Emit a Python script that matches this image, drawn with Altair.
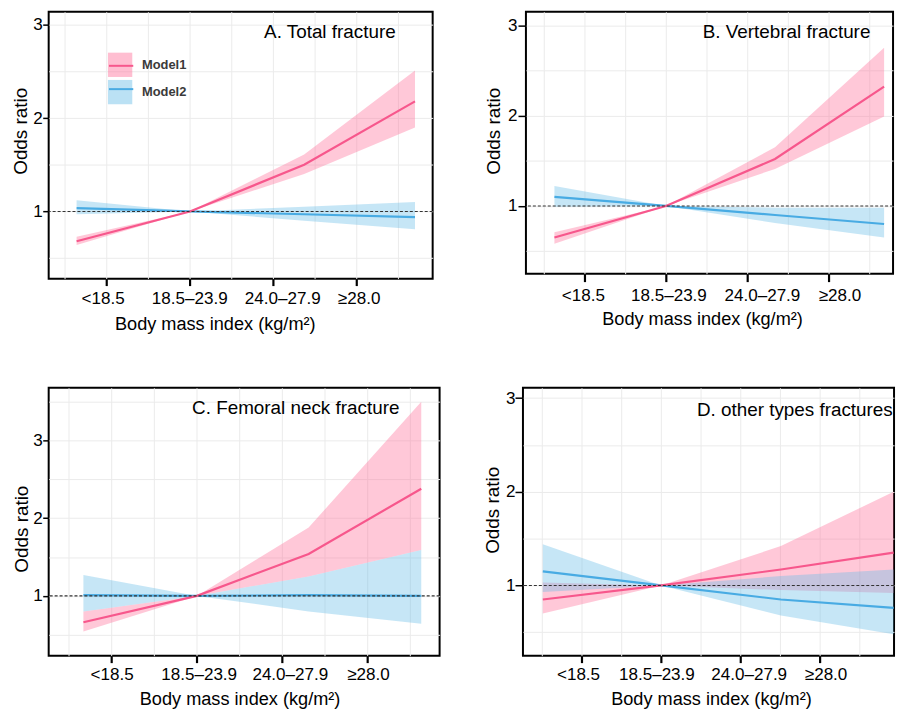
import json
import altair as alt
import pandas as pd

FONT = "Liberation Sans"
MODELS = ["Model1", "Model2"]
X_TICK_LABELS = ["<18.5", "18.5–23.9", "24.0–27.9", "≥28.0"]
X_TITLE = "Body mass index (kg/m²)"
Y_TITLE = "Odds ratio"

PINK_LINE = "#F7578C"
BLUE_LINE = "#48ABE3"
PINK_FILL = "#FF6E99"
BLUE_FILL = "#69BDE7"

# ---- Panel A: Total fracture
a_x = [0.64, 2.0, 3.37, 4.70]
a_m1_est = [0.68, 1.0, 1.50, 2.18]
a_m1_lo = [0.64, 1.0, 1.40, 1.90]
a_m1_hi = [0.73, 1.0, 1.61, 2.51]
a_m2_est = [1.035, 1.0, 0.97, 0.94]
a_m2_lo = [0.97, 1.0, 0.90, 0.81]
a_m2_hi = [1.12, 1.0, 1.05, 1.10]

# ---- Panel B: Vertebral fracture
b_x = [0.63, 2.0, 3.34, 4.68]
b_m1_est = [0.65, 1.0, 1.52, 2.32]
b_m1_lo = [0.58, 1.0, 1.41, 1.99]
b_m1_hi = [0.71, 1.0, 1.65, 2.75]
b_m2_est = [1.10, 1.0, 0.90, 0.80]
b_m2_lo = [0.99, 1.0, 0.81, 0.65]
b_m2_hi = [1.22, 1.0, 0.98, 0.98]

# ---- Panel C: Femoral neck fracture
c_x = [0.67, 2.0, 3.31, 4.63]
c_m1_est = [0.66, 1.0, 1.54, 2.38]
c_m1_lo = [0.54, 1.0, 1.25, 1.59]
c_m1_hi = [0.80, 1.0, 1.88, 3.50]
c_m2_est = [1.01, 1.0, 1.01, 1.0]
c_m2_lo = [0.80, 1.0, 0.80, 0.64]
c_m2_hi = [1.27, 1.0, 1.25, 1.59]

# ---- Panel D: other types fractures
d_x = [0.51, 2.0, 3.51, 4.93]
d_m1_est = [0.85, 1.0, 1.17, 1.35]
d_m1_lo = [0.70, 1.0, 0.95, 0.92]
d_m1_hi = [1.03, 1.0, 1.42, 2.00]
d_m2_est = [1.15, 1.0, 0.85, 0.76]
d_m2_lo = [0.93, 1.0, 0.68, 0.48]
d_m2_hi = [1.44, 1.0, 1.10, 1.17]

X_GRID = [0.5, 1, 1.5, 2, 2.5, 3, 3.5, 4, 4.5]
REF_LINE = [1.0]


def make_df(x, m1e, m1l, m1h, m2e, m2l, m2h):
    rows = []
    for model, e, l, h in [(MODELS[0], m1e, m1l, m1h), (MODELS[1], m2e, m2l, m2h)]:
        for xi, ei, li, hi in zip(x, e, l, h):
            rows.append({"x": xi, "model": model, "est": ei, "lo": li, "hi": hi})
    return pd.DataFrame(rows)


MINOR_OFF = {"condition": {"test": "datum.value % 1 !== 0", "value": 0}, "value": 1}
X_LABEL_EXPR = ("datum.value % 1 === 0 ? " + json.dumps(X_TICK_LABELS, ensure_ascii=False)
                + "[datum.value - 1] : ''")
Y_LABEL_EXPR = "datum.value % 1 === 0 ? '' + datum.value : ''"


def label_shift(vals):
    return {"condition": [{"test": f"datum.value === {i + 1}", "value": v}
                          for i, v in enumerate(vals)], "value": 0}


LEG_COMMON = dict(title=None, orient="none", legendX=59.5, legendY=41, direction="vertical",
                  symbolSize=600, labelFontSize=13, labelFontWeight="bold",
                  labelColor="#3a3a3a", labelOffset=9.5, rowPadding=2.5, padding=0,
                  labelFont=FONT)
FILL_LEGEND = alt.Legend(symbolType="square", symbolStrokeWidth=0, symbolOpacity=0.45,
                         zindex=1, **LEG_COMMON)
STROKE_LEGEND = alt.Legend(symbolType="stroke", symbolStrokeWidth=2, labelExpr="''",
                           zindex=2, **LEG_COMMON)


def panel(df, label, w, h, xdom, ydom, yvals, xa, shifts, ya, text_pos, legend=False):
    xs = alt.Scale(domain=xdom, nice=False, zero=False)
    ys = alt.Scale(domain=ydom, nice=False, zero=False)
    x_axis = alt.Axis(values=X_GRID, labelExpr=X_LABEL_EXPR, title=X_TITLE, grid=True,
                      domain=False, tickColor="black", tickWidth=2.2, tickSize=xa[0],
                      tickOpacity=MINOR_OFF, labelPadding=xa[1], titlePadding=xa[2],
                      titleX=xa[3], labelOffset=label_shift(shifts),
                      labelFlush=False, labelOverlap=False)
    y_axis = alt.Axis(values=yvals, labelExpr=Y_LABEL_EXPR, title=Y_TITLE, grid=True,
                      domain=False, tickColor="black", tickWidth=1.5, tickSize=ya[0],
                      tickOpacity=MINOR_OFF, labelPadding=ya[1], titlePadding=ya[2],
                      titleY=ya[3], labelFlush=False, labelOverlap=False)

    fill_enc = alt.Fill("model:N", scale=alt.Scale(domain=MODELS, range=[PINK_FILL, BLUE_FILL]),
                        legend=FILL_LEGEND if legend else None)
    stroke_enc = alt.Stroke("model:N", scale=alt.Scale(range=[PINK_LINE, BLUE_LINE]),
                            legend=STROKE_LEGEND if legend else None)

    base = alt.Chart(df)
    x_enc = alt.X("x:Q", scale=xs, axis=x_axis)
    areas = [
        base.transform_filter(alt.datum.model == m).mark_area(opacity=0.38).encode(
            x=x_enc, y=alt.Y("lo:Q", scale=ys, axis=y_axis), y2="hi:Q", fill=fill_enc)
        for m in MODELS
    ]
    lines = [
        base.transform_filter(alt.datum.model == m).mark_line(strokeWidth=2.2).encode(
            x=x_enc, y=alt.Y("est:Q", scale=ys, axis=y_axis), stroke=stroke_enc)
        for m in [MODELS[1], MODELS[0]]
    ]
    rule = alt.Chart(pd.DataFrame({"v": REF_LINE})).mark_rule(
        strokeDash=[3, 2], color="#333333", strokeWidth=1.1).encode(
        y=alt.Y("v:Q", scale=ys, axis=y_axis))
    txt = alt.Chart(pd.DataFrame({"t": [label]})).mark_text(
        font=FONT, fontSize=19, color="black", align="center", baseline="middle").encode(
        text="t:N", x=alt.value(text_pos[0]), y=alt.value(text_pos[1]))
    return alt.layer(*areas, *lines, rule, txt).properties(width=w, height=h)


pA = panel(make_df(a_x, a_m1_est, a_m1_lo, a_m1_hi, a_m2_est, a_m2_lo, a_m2_hi),
           "A. Total fracture", 387, 269, [0.305, 4.912], [0.28, 3.14],
           [0.5, 1, 1.5, 2, 2.5, 3], (7, 4.5, 9, 167.4), [-4, -0.7, 9, 2],
           (6, 0.5, 2.5, 120), (283.4, 20.5), legend=True)
pB = panel(make_df(b_x, b_m1_est, b_m1_lo, b_m1_hi, b_m2_est, b_m2_lo, b_m2_hi),
           "B. Vertebral fracture", 370, 264, [0.28, 4.79], [0.25, 3.15],
           [0.5, 1, 1.5, 2, 2.5, 3], (8, 4.8, 7.3, 177.5), [-1.7, 2.5, 14.7, 10.8],
           (8, 1, 4.3, 120), (262.7, 20))
pC = panel(make_df(c_x, c_m1_est, c_m1_lo, c_m1_hi, c_m2_est, c_m2_lo, c_m2_hi),
           "C. Femoral neck fracture", 394, 270, [0.263, 4.845], [0.23, 3.68],
           [0.5, 1, 1.5, 2, 2.5, 3, 3.5], (7, 3.5, 8, 192.4), [0, 1.8, 7.7, 0.5],
           (6, 0.5, 1.5, 142), (249, 20))
pD = panel(make_df(d_x, d_m1_est, d_m1_lo, d_m1_hi, d_m2_est, d_m2_lo, d_m2_hi),
           "D. other types fractures", 374, 270, [0.26, 4.935], [0.25, 3.11],
           [0.5, 1, 1.5, 2, 2.5, 3], (7, 3.5, 8, 189.5), [-3.7, -4.7, 8.3, 5.8],
           (8, 0, 2.6, 123), (274, 22))

row1 = alt.hconcat(pA, pB, spacing=49)
row2 = alt.hconcat(pC, pD, spacing=41)

chart = (
    alt.vconcat(row1, row2, spacing=53)
    .properties(padding={"left": 2, "top": 0, "right": 0, "bottom": 0})
    .configure_view(stroke="black", strokeWidth=2)
    .configure_axis(labelFont=FONT, titleFont=FONT, labelColor="black", titleColor="black",
                    labelFontSize=17.2, titleFontSize=18.3, titleFontWeight="normal",
                    gridColor="#EBEBEB", gridWidth=1)
    .configure_axisY(titleFontSize=19)
    .configure_legend(labelFont=FONT)
)

chart.save("out.html", embed_options={"renderer": "svg", "actions": False})
